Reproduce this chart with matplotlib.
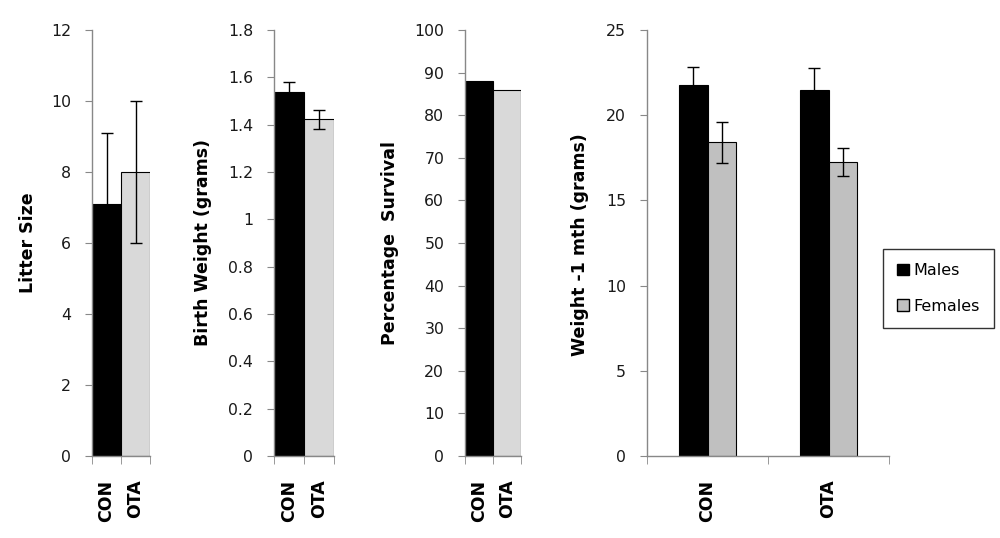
import numpy as np
import matplotlib
matplotlib.use("Agg")
import matplotlib.pyplot as plt
from matplotlib.patches import Patch

groups = ["CON", "OTA"]

litter_size = [7.1, 8.0]
litter_err = [2.0, 2.0]

birth_weight = [1.537, 1.423]
birth_err = [0.045, 0.04]

survival = [88, 86]

weight_males = [21.75, 21.45]
weight_males_err = [1.1, 1.3]
weight_females = [18.4, 17.25]
weight_females_err = [1.22, 0.8]

plt.rcParams["font.family"] = "DejaVu Sans"

W, H = 1000, 538
fig = plt.figure(figsize=(10, 5.38), dpi=100)

top_px, zero_px = 30, 456
bottom = (H - zero_px) / H
height = (zero_px - top_px) / H
axis_grey = "#888888"
label_size = 12.5


def style_axes(ax, n_cat):
    for s in ("top", "right"):
        ax.spines[s].set_visible(False)
    for s in ("left", "bottom"):
        ax.spines[s].set_color(axis_grey)
        ax.spines[s].set_linewidth(1.0)
    ax.set_xlim(-0.5, n_cat - 0.5)
    # excel style: tick marks between categories, labels centered
    ax.set_xticks(np.arange(n_cat + 1) - 0.5, minor=True)
    ax.set_xticks(np.arange(n_cat))
    ax.set_xticklabels(groups, rotation=90, fontweight="bold", fontsize=label_size)
    ax.tick_params(axis="x", which="major", length=0, pad=17)
    ax.tick_params(axis="x", which="minor", length=6, color=axis_grey, direction="out")
    ax.tick_params(axis="y", length=5, color=axis_grey, labelsize=11.3,
                   labelcolor="#1a1a1a", pad=10)


def ylabel_at(text, x_px, y_px=243):
    fig.text(x_px / W, 1 - y_px / H, text, rotation=90, ha="center", va="center",
             fontweight="bold", fontsize=label_size)


def single_panel(left_px, right_px, values, errs, ymax, ystep, fmt=None):
    ax = fig.add_axes([left_px / W, bottom, (right_px - left_px) / W, height])
    x = np.arange(len(groups))
    ax.bar(x, values, width=1.0, color=["#000000", "#d9d9d9"],
           edgecolor="black", linewidth=0.8)
    if errs is not None:
        ax.errorbar(x, values, yerr=errs, fmt="none", ecolor="black",
                    elinewidth=1.0, capsize=4.3, capthick=1.0)
    ax.set_ylim(0, ymax)
    ticks = np.arange(0, ymax + ystep / 2, ystep)
    ax.set_yticks(ticks)
    if fmt:
        ax.set_yticklabels([fmt(t) for t in ticks])
    style_axes(ax, len(groups))
    return ax


single_panel(92, 150, litter_size, litter_err, 12, 2)
ylabel_at("Litter Size", 28)

single_panel(274, 334, birth_weight, birth_err, 1.8, 0.2,
             fmt=lambda t: "0" if abs(t) < 1e-9 else ("1" if abs(t - 1) < 1e-9 else f"{t:.1f}"))
ylabel_at("Birth Weight (grams)", 203)

single_panel(465, 521, survival, None, 100, 10)
ylabel_at("Percentage  Survival", 390)

# grouped panel
ax = fig.add_axes([647 / W, bottom, (889 - 647) / W, height])
x = np.arange(len(groups))
w = 0.235
ax.bar(x - w / 2, weight_males, width=w, color="#000000", edgecolor="black", linewidth=0.8)
ax.bar(x + w / 2, weight_females, width=w, color="#c0c0c0", edgecolor="black", linewidth=0.8)
ax.errorbar(x - w / 2, weight_males, yerr=weight_males_err, fmt="none", ecolor="black",
            elinewidth=1.0, capsize=4.3, capthick=1.0)
ax.errorbar(x + w / 2, weight_females, yerr=weight_females_err, fmt="none", ecolor="black",
            elinewidth=1.0, capsize=4.3, capthick=1.0)
ax.set_ylim(0, 25)
ax.set_yticks(np.arange(0, 26, 5))
style_axes(ax, len(groups))
ylabel_at("Weight -1 mth (grams)", 580, 245)

handles = [Patch(facecolor="#000000", edgecolor="black", label="Males"),
           Patch(facecolor="#c0c0c0", edgecolor="black", label="Females")]
leg = fig.legend(handles=handles, loc="center", bbox_to_anchor=(938.5 / W, 1 - 288.5 / H),
                 frameon=True, fancybox=False, fontsize=11.5, handlelength=0.7,
                 handleheight=0.75, handletextpad=0.3, labelspacing=1.3,
                 borderpad=0.9, borderaxespad=0, edgecolor="black")
leg.get_frame().set_linewidth(1.0)

fig.savefig("out.png", dpi=100)
